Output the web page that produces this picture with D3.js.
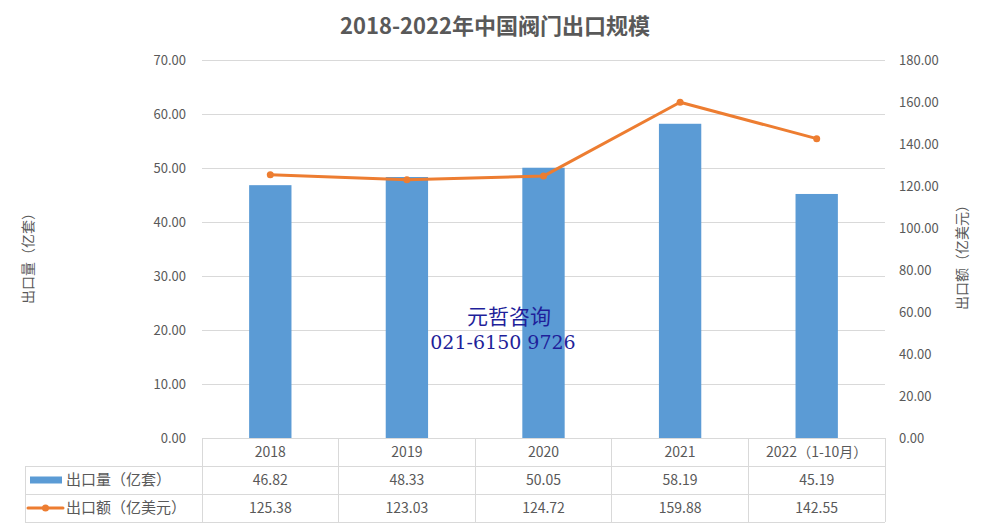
<!doctype html>
<html lang="zh">
<head>
<meta charset="utf-8">
<title>2018-2022年中国阀门出口规模</title>
<script src="https://cdn.jsdelivr.net/npm/d3@7"></script>
<style>
    body { margin: 0; background: #fff; }
    svg { display: block; font-family: "Noto Sans CJK SC", "Noto Sans", sans-serif; }
</style>
</head>
<body>
<svg width="990" height="527"></svg>
<script>
    var categories = ["2018", "2019", "2020", "2021", "2022（1-10月）"];
    var volume = [46.82, 48.33, 50.05, 58.19, 45.19];      // 出口量（亿套）
    var amount = [125.38, 123.03, 124.72, 159.88, 142.55]; // 出口额（亿美元）
    var leftTicks = [0, 10, 20, 30, 40, 50, 60, 70];
    var rightTicks = [0, 20, 40, 60, 80, 100, 120, 140, 160, 180];
    var seriesNames = ["出口量（亿套）", "出口额（亿美元）"];

    var barColor = "#5b9bd5", lineColor = "#ed7d31", textColor = "#595959", gridColor = "#d9d9d9";

    var svg = d3.select("svg");
    var plot = { left: 202, right: 885, top: 60, bottom: 438 };

    var x = d3.scaleBand()
        .domain(categories)
        .range([plot.left, plot.right])
        .paddingInner(0);
    var yL = d3.scaleLinear().domain([0, 70]).range([plot.bottom, plot.top]);
    var yR = d3.scaleLinear().domain([0, 180]).range([plot.bottom, plot.top]);

    // title
    svg.append("text")
        .attr("x", 495).attr("y", 34)
        .attr("text-anchor", "middle")
        .attr("font-size", 22).attr("font-weight", "bold")
        .attr("fill", textColor)
        .text("2018-2022年中国阀门出口规模");

    // grid lines
    svg.append("g").selectAll("line")
        .data(leftTicks.filter(function (d) { return d > 0; }))
        .enter().append("line")
        .attr("x1", plot.left).attr("x2", plot.right)
        .attr("y1", function (d) { return yL(d) + 0.5; })
        .attr("y2", function (d) { return yL(d) + 0.5; })
        .attr("stroke", gridColor);

    // left axis labels
    svg.append("g").selectAll("text")
        .data(leftTicks)
        .enter().append("text")
        .attr("x", 186).attr("y", function (d) { return yL(d); })
        .attr("dy", "0.35em")
        .attr("text-anchor", "end")
        .attr("font-size", 13).attr("fill", textColor)
        .text(function (d) { return d.toFixed(2); });

    // right axis labels
    svg.append("g").selectAll("text")
        .data(rightTicks)
        .enter().append("text")
        .attr("x", 899).attr("y", function (d) { return yR(d); })
        .attr("dy", "0.35em")
        .attr("text-anchor", "start")
        .attr("font-size", 13).attr("fill", textColor)
        .text(function (d) { return d.toFixed(2); });

    // axis titles
    svg.append("text")
        .attr("transform", "translate(33,255) rotate(-90)")
        .attr("text-anchor", "middle")
        .attr("font-size", 14).attr("fill", textColor)
        .text("出口量（亿套）");
    svg.append("text")
        .attr("transform", "translate(967,254) rotate(-90)")
        .attr("text-anchor", "middle")
        .attr("font-size", 14).attr("fill", textColor)
        .text("出口额（亿美元）");

    // bars
    var barW = x.bandwidth() * 0.31;
    svg.append("g").selectAll("rect")
        .data(volume)
        .enter().append("rect")
        .attr("x", function (d, i) { return x(categories[i]) + x.bandwidth() / 2 - barW / 2; })
        .attr("y", function (d) { return yL(d); })
        .attr("width", barW)
        .attr("height", function (d) { return plot.bottom - yL(d); })
        .attr("fill", barColor);

    // watermark
    svg.append("text")
        .attr("x", 509).attr("y", 324)
        .attr("text-anchor", "middle")
        .attr("font-family", "'Noto Sans CJK SC', serif")
        .attr("font-size", 21).attr("fill", "#1f1f9a")
        .text("元哲咨询");
    svg.append("text")
        .attr("x", 503).attr("y", 349)
        .attr("text-anchor", "middle")
        .attr("font-family", "'DejaVu Serif', 'Liberation Serif', serif")
        .attr("font-size", 19).attr("fill", "#1f1f9a")
        .attr("xml:space", "preserve")
        .text("021-6150 9726");

    // line
    var cx = function (d, i) { return x(categories[i]) + x.bandwidth() / 2; };
    svg.append("path")
        .datum(amount)
        .attr("fill", "none")
        .attr("stroke", lineColor)
        .attr("stroke-width", 3)
        .attr("stroke-linejoin", "round")
        .attr("d", d3.line().x(cx).y(function (d) { return yR(d); }));
    svg.append("g").selectAll("circle")
        .data(amount)
        .enter().append("circle")
        .attr("cx", cx)
        .attr("cy", function (d) { return yR(d); })
        .attr("r", 3.5)
        .attr("fill", lineColor);

    // data table
    var rowY = [438, 466, 494, 522];
    var tableLeft = 25;
    var table = svg.append("g").attr("stroke", gridColor).attr("shape-rendering", "crispEdges");
    // horizontal lines
    table.append("line").attr("x1", plot.left).attr("x2", plot.right).attr("y1", rowY[0]).attr("y2", rowY[0]);
    rowY.slice(1).forEach(function (yy) {
        table.append("line").attr("x1", tableLeft).attr("x2", plot.right).attr("y1", yy).attr("y2", yy);
    });
    // vertical lines
    table.append("line").attr("x1", tableLeft).attr("x2", tableLeft).attr("y1", rowY[1]).attr("y2", rowY[3]);
    categories.forEach(function (c) {
        table.append("line").attr("x1", x(c)).attr("x2", x(c)).attr("y1", rowY[0]).attr("y2", rowY[3]);
    });
    table.append("line").attr("x1", plot.right).attr("x2", plot.right).attr("y1", rowY[0]).attr("y2", rowY[3]);

    // category labels
    svg.append("g").selectAll("text")
        .data(categories)
        .enter().append("text")
        .attr("x", function (d) { return x(d) + x.bandwidth() / 2; })
        .attr("y", (rowY[0] + rowY[1]) / 2)
        .attr("dy", "0.35em")
        .attr("text-anchor", "middle")
        .attr("font-size", 14).attr("fill", textColor)
        .text(function (d) { return d; });

    // value rows
    [volume, amount].forEach(function (vals, r) {
        svg.append("g").selectAll("text")
            .data(vals)
            .enter().append("text")
            .attr("x", function (d, i) { return x(categories[i]) + x.bandwidth() / 2; })
            .attr("y", (rowY[r + 1] + rowY[r + 2]) / 2)
            .attr("dy", "0.35em")
            .attr("text-anchor", "middle")
            .attr("font-size", 14).attr("fill", textColor)
            .text(function (d) { return d.toFixed(2); });
    });

    // legend keys in table
    var ly0 = (rowY[1] + rowY[2]) / 2, ly1 = (rowY[2] + rowY[3]) / 2;
    svg.append("rect").attr("x", 30).attr("y", ly0 - 3.5).attr("width", 32).attr("height", 7).attr("fill", barColor);
    svg.append("line").attr("x1", 28).attr("x2", 63).attr("y1", ly1).attr("y2", ly1)
        .attr("stroke", lineColor).attr("stroke-width", 3).attr("stroke-linecap", "round");
    svg.append("circle").attr("cx", 45.5).attr("cy", ly1).attr("r", 3.5).attr("fill", lineColor);
    seriesNames.forEach(function (name, i) {
        svg.append("text")
            .attr("x", 66).attr("y", i === 0 ? ly0 : ly1)
            .attr("dy", "0.35em")
            .attr("font-size", 15).attr("fill", textColor)
            .text(name);
    });
</script>
</body>
</html>
